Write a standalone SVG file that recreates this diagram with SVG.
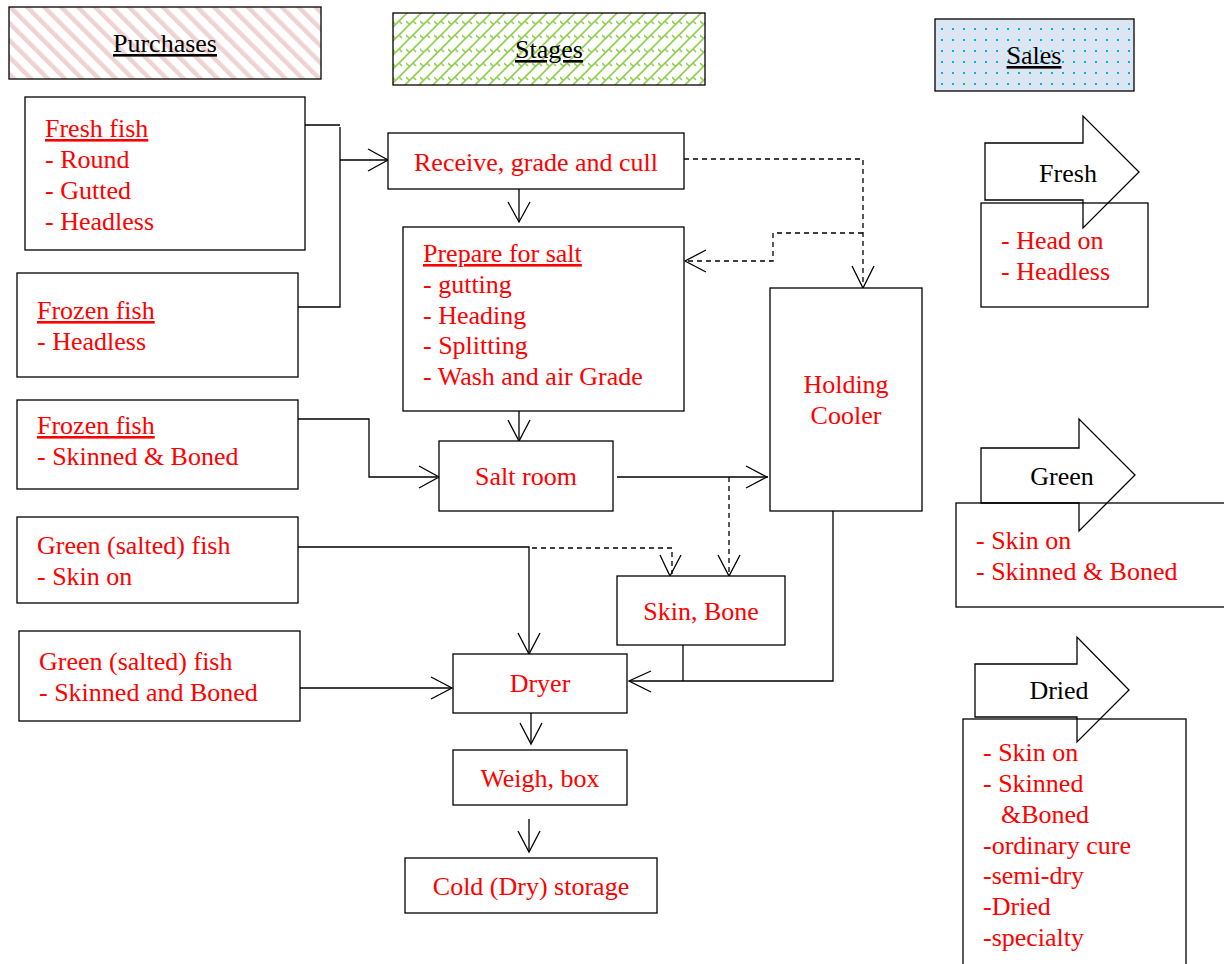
<svg xmlns="http://www.w3.org/2000/svg" width="1224" height="964" viewBox="0 0 1224 964">
<defs>
<pattern id="pStripe" width="12" height="12" patternUnits="userSpaceOnUse" patternTransform="rotate(-45)">
<rect width="12" height="12" fill="#fff"/>
<rect x="0" y="0" width="4.5" height="12" fill="#efd3d3"/>
</pattern>
<pattern id="pDivot" width="14" height="14" patternUnits="userSpaceOnUse">
<rect width="14" height="14" fill="#fff"/>
<path d="M0,14 L14,0 M-2,2 L2,-2 M12,16 L16,12 M7,7 L10,10 M0,7 L3,10" stroke="#8fd14f" stroke-width="1.6" fill="none"/>
</pattern>
<pattern id="pDots" width="11" height="11" patternUnits="userSpaceOnUse" x="3" y="3">
<rect width="11" height="11" fill="#dce6f2"/>
<rect x="3" y="3" width="2" height="2" fill="#00b0f0"/>
</pattern>
</defs>
<style>
.box{fill:#fff;stroke:#000;stroke-width:1.3}
.nf{fill:none;stroke:#000;stroke-width:1.3}
.t{font-family:"Liberation Serif","Times New Roman",serif;font-size:26px;fill:#ff0000}
.h{font-family:"Liberation Serif","Times New Roman",serif;font-size:26px;fill:#000}
.c{text-anchor:middle}
.u{text-decoration:underline}
.ln{fill:none;stroke:#000;stroke-width:1.3}
.ds{fill:none;stroke:#000;stroke-width:1.3;stroke-dasharray:5 4}
.ah{fill:none;stroke:#000;stroke-width:1.3}
.blk{fill:#fff;stroke:#000;stroke-width:1.3}
</style>

<g id="legend-purchases">
<rect x="9" y="7" width="312" height="72" fill="url(#pStripe)" stroke="#000" stroke-width="1.3"/>
<text class="h c u" x="165" y="52">Purchases</text>
</g>
<g id="legend-stages">
<rect x="393" y="13" width="312" height="72" fill="url(#pDivot)" stroke="#000" stroke-width="1.3"/>
<text class="h c u" x="549" y="58">Stages</text>
</g>
<g id="legend-sales">
<rect x="935" y="19" width="199" height="72" fill="url(#pDots)" stroke="#000" stroke-width="1.3"/>
<text class="h c u" x="1034" y="64">Sales</text>
</g>

<g id="connectors">
<path class="ln" d="M305,125 H340 M340,127 V307 H298 M340,160 H388"/>
<path class="ah" d="M368,149 L388,160 L368,171"/>
<path class="ln" d="M519,189 V222"/>
<path class="ah" d="M508,202 L519,222 L530,202"/>
<path class="ds" d="M684,159 H863 V286"/>
<path class="ah" d="M852,266 L863,288 L874,266"/>
<path class="ds" d="M863,233 H773 V261 H686"/>
<path class="ah" d="M706,250 L685,261 L706,272"/>
<path class="ln" d="M519,411 V439"/>
<path class="ah" d="M508,420 L519,441 L530,420"/>
<path class="ln" d="M298,419 H369 V477 H437"/>
<path class="ah" d="M419,466 L439,477 L419,488"/>
<path class="ln" d="M617,477 H768"/>
<path class="ah" d="M746,466 L767,477 L746,488"/>
<path class="ds" d="M729,477 V574"/>
<path class="ah" d="M718,555 L729,576 L740,555"/>
<path class="ln" d="M298,547 H529 V652"/>
<path class="ds" d="M532,548 H672 V574"/>
<path class="ah" d="M660,555 L670,576 L681,555"/>
<path class="ah" d="M518,633 L529,654 L540,633"/>
<path class="ln" d="M300,688 H451"/>
<path class="ah" d="M431,677 L452,688 L431,699"/>
<path class="ln" d="M683,645 V681 M833,511 V681 H630"/>
<path class="ah" d="M651,671 L629,681 L651,692"/>
<path class="ln" d="M531,713 V743"/>
<path class="ah" d="M520,723 L531,744 L542,723"/>
<path class="ln" d="M529,819 V851"/>
<path class="ah" d="M518,831 L529,852 L540,831"/>
</g>

<g id="n-fresh-fish">
<rect class="box" x="25" y="97" width="280" height="153"/>
<text class="t" x="45" y="137"><tspan class="u">Fresh fish</tspan><tspan x="45" dy="31">- Round</tspan><tspan x="45" dy="31">- Gutted</tspan><tspan x="45" dy="31">- Headless</tspan></text>
</g>
<g id="n-frozen-headless">
<rect class="box" x="17" y="273" width="281" height="104"/>
<text class="t" x="37" y="319"><tspan class="u">Frozen fish</tspan><tspan x="37" dy="31">- Headless</tspan></text>
</g>
<g id="n-frozen-skinned">
<rect class="box" x="17" y="400" width="281" height="89"/>
<text class="t" x="37" y="434"><tspan class="u">Frozen fish</tspan><tspan x="37" dy="31">- Skinned &amp; Boned</tspan></text>
</g>
<g id="n-green-skinon">
<rect class="box" x="17" y="517" width="281" height="86"/>
<text class="t" x="37" y="554"><tspan>Green (salted) fish</tspan><tspan x="37" dy="31">- Skin on</tspan></text>
</g>
<g id="n-green-skinned">
<rect class="box" x="19" y="631" width="281" height="90"/>
<text class="t" x="39" y="670"><tspan>Green (salted) fish</tspan><tspan x="39" dy="31">- Skinned and Boned</tspan></text>
</g>

<g id="n-receive">
<rect class="box" x="388" y="133" width="296" height="56"/>
<text class="t c" x="536" y="171">Receive, grade and cull</text>
</g>
<g id="n-prepare">
<rect class="box" x="403" y="227" width="281" height="184"/>
<text class="t" x="423" y="262"><tspan class="u">Prepare for salt</tspan><tspan x="423" dy="31">- gutting</tspan><tspan x="423" dy="31">- Heading</tspan><tspan x="423" dy="30">- Splitting</tspan><tspan x="423" dy="31">- Wash and air Grade</tspan></text>
</g>
<g id="n-salt">
<rect class="box" x="439" y="441" width="174" height="70"/>
<text class="t c" x="526" y="485">Salt room</text>
</g>
<g id="n-holding">
<rect class="box" x="770" y="288" width="152" height="223"/>
<text class="t c" x="846" y="393"><tspan x="846">Holding</tspan><tspan x="846" dy="31">Cooler</tspan></text>
</g>
<g id="n-skin">
<rect class="box" x="617" y="576" width="168" height="69"/>
<text class="t c" x="701" y="620">Skin, Bone</text>
</g>
<g id="n-dryer">
<rect class="box" x="453" y="654" width="174" height="59"/>
<text class="t c" x="540" y="692">Dryer</text>
</g>
<g id="n-weigh">
<rect class="box" x="453" y="750" width="174" height="55"/>
<text class="t c" x="540" y="787">Weigh, box</text>
</g>
<g id="n-cold">
<rect class="box" x="405" y="858" width="252" height="55"/>
<text class="t c" x="531" y="895">Cold (Dry) storage</text>
</g>

<g id="s-fresh">
<path class="blk" d="M985,143 H1083 V116 L1139,172 L1083,228 V200 H985 Z"/>
<rect class="nf" x="981" y="203" width="167" height="104"/>
<text class="h c" x="1068" y="182">Fresh</text>
<text class="t" x="1001" y="249"><tspan>- Head on</tspan><tspan x="1001" dy="31">- Headless</tspan></text>
</g>
<g id="s-green">
<path class="blk" d="M981,448 H1079 V419 L1135,475 L1079,531 V503 H981 Z"/>
<rect class="nf" x="956" y="503" width="280" height="104"/>
<text class="h c" x="1062" y="485">Green</text>
<text class="t" x="976" y="549"><tspan>- Skin on</tspan><tspan x="976" dy="31">- Skinned &amp; Boned</tspan></text>
</g>
<g id="s-dried">
<path class="blk" d="M975,664 H1077 V637 L1129,690 L1077,742 V717 H975 Z"/>
<rect class="nf" x="963" y="719" width="223" height="260"/>
<text class="h c" x="1059" y="699">Dried</text>
<text class="t" x="983" y="761"><tspan>- Skin on</tspan><tspan x="983" dy="31">- Skinned</tspan><tspan x="1001" dy="31">&amp;Boned</tspan><tspan x="983" dy="31">-ordinary cure</tspan><tspan x="983" dy="30">-semi-dry</tspan><tspan x="983" dy="31">-Dried</tspan><tspan x="983" dy="31">-specialty</tspan></text>
</g>
</svg>
